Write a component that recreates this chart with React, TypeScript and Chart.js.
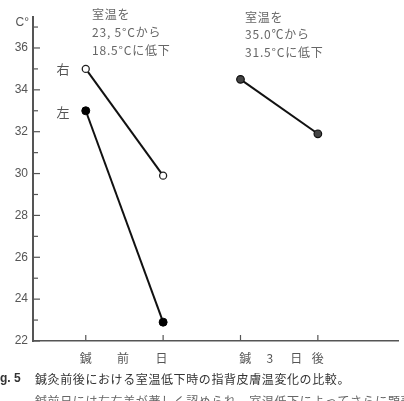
import React, { useEffect, useRef } from "react";
import { Chart, registerables } from "chart.js";

Chart.register(...registerables);

// data
const xPositions = [1, 2, 3, 4];
const rightBefore = [35.0, 29.9];
const leftBefore = [33.0, 22.9];
const after3Days = [34.5, 31.9];
const yTickLabels = [22, 24, 26, 28, 30, 32, 34, 36];
const groupBeforeChars = ["鍼", "前", "日"];
const groupBeforeAt = [1, 1.48, 1.98];
const groupAfterChars = ["鍼", "3", "日", "後"];
const groupAfterAt = [3.06, 3.38, 3.72, 4.0];
const noteLeft = ["室温を", "23, 5°Cから", "18.5°Cに低下"];
const noteRight = ["室温を", "35.0℃から", "31.5°Cに低下"];
const captionTitle = "鍼灸前後における室温低下時の指背皮膚温変化の比較。";
const captionLine2 = "鍼前日には左右差が著しく認められ、室温低下によってさらに顕著にな";

const JP = '"Noto Sans CJK JP", "Noto Sans", sans-serif';
const LAT = '"Liberation Sans", Arial, sans-serif';

const decor = {
  id: "decor",
  afterDraw(chart: any) {
    const ctx = chart.ctx;
    const x = chart.scales.x;
    const y = chart.scales.y;
    const area = chart.chartArea;
    ctx.save();
    // inward y ticks
    ctx.strokeStyle = "#555";
    ctx.lineWidth = 1.2;
    y.ticks.forEach((t: any) => {
      const py = y.getPixelForValue(t.value);
      const len = t.value % 2 === 0 ? 7 : 5;
      ctx.beginPath();
      ctx.moveTo(area.left, py);
      ctx.lineTo(area.left + len, py);
      ctx.stroke();
    });
    // inward x ticks
    x.ticks.forEach((t: any) => {
      const px = x.getPixelForValue(t.value);
      ctx.beginPath();
      ctx.moveTo(px, area.bottom);
      ctx.lineTo(px, area.bottom - 6);
      ctx.stroke();
    });
    // unit label
    ctx.fillStyle = "#555";
    ctx.font = `12px ${LAT}`;
    ctx.textAlign = "right";
    ctx.textBaseline = "middle";
    ctx.fillText("C°", 29, 23);
    // category labels
    ctx.font = `12px ${JP}`;
    ctx.textAlign = "center";
    ctx.fillStyle = "#555";
    groupBeforeChars.forEach((c, i) => {
      ctx.fillText(c, x.getPixelForValue(groupBeforeAt[i]), 358);
    });
    groupAfterChars.forEach((c, i) => {
      ctx.fillText(c, x.getPixelForValue(groupAfterAt[i]), 358);
    });
    // side labels
    ctx.font = `13px ${JP}`;
    ctx.fillText("右", 63, y.getPixelForValue(rightBefore[0]));
    ctx.fillText("左", 63, y.getPixelForValue(leftBefore[0]) + 1);
    // notes
    ctx.textAlign = "left";
    ctx.font = `12px ${JP}`;
    ctx.fillStyle = "#666";
    (ctx as any).letterSpacing = "0.8px";
    noteLeft.forEach((s, i) => ctx.fillText(s, 92, 14 + i * 18));
    noteRight.forEach((s, i) => ctx.fillText(s, 245, 17 + i * 17.5));
    // caption
    (ctx as any).letterSpacing = "0px";
    ctx.fillStyle = "#333";
    ctx.font = `bold 12px ${LAT}`;
    ctx.fillText("g. 5", 0, 379);
    ctx.font = `12px ${JP}`;
    (ctx as any).letterSpacing = "0.6px";
    ctx.fillText(captionTitle, 35, 379);
    ctx.fillStyle = "#666";
    ctx.fillText(captionLine2, 35, 401);
    ctx.restore();
  },
};

export default function App() {
  const ref = useRef<HTMLCanvasElement>(null);
  useEffect(() => {
    if (!ref.current) return;
    const pts = (vals: number[], xs: number[]) => vals.map((v, i) => ({ x: xs[i], y: v }));
    const chart = new Chart(ref.current, {
      type: "line",
      data: {
        datasets: [
          {
            label: "右",
            data: pts(rightBefore, [xPositions[0], xPositions[1]]),
            borderColor: "#111",
            borderWidth: 2,
            pointRadius: 3.5,
            pointBackgroundColor: "#fff",
            pointBorderColor: "#222",
            pointBorderWidth: 1.3,
          },
          {
            label: "左",
            data: pts(leftBefore, [xPositions[0], xPositions[1]]),
            borderColor: "#111",
            borderWidth: 2,
            pointRadius: 4,
            pointBackgroundColor: "#000",
            pointBorderColor: "#000",
            pointBorderWidth: 1,
          },
          {
            label: "鍼3日後",
            data: pts(after3Days, [xPositions[2], xPositions[3]]),
            borderColor: "#111",
            borderWidth: 2,
            pointRadius: 3.8,
            pointBackgroundColor: "#444",
            pointBorderColor: "#111",
            pointBorderWidth: 1.2,
          },
        ],
      },
      options: {
        animation: false,
        responsive: false,
        devicePixelRatio: 1,
        layout: { padding: { top: 17, right: 0, left: 0, bottom: 0 } },
        plugins: { legend: { display: false }, tooltip: { enabled: false } },
        scales: {
          x: {
            type: "linear",
            min: 0.318,
            max: 5.045,
            afterBuildTicks: (s: any) => {
              s.ticks = xPositions.map((v) => ({ value: v }));
            },
            afterFit: (s: any) => {
              s.height = 60;
            },
            ticks: { display: false },
            grid: { display: false, drawTicks: false },
            border: { display: true, color: "#555", width: 1.5 },
          },
          y: {
            min: 22,
            max: 37.48,
            afterBuildTicks: (s: any) => {
              const t = [];
              for (let v = 22; v <= 37; v++) t.push({ value: v });
              s.ticks = t;
            },
            afterFit: (s: any) => {
              s.width = 33;
            },
            ticks: {
              padding: 5,
              color: "#555",
              font: { family: LAT, size: 12 },
              callback: (v: any) => (yTickLabels.includes(Number(v)) ? String(v) : ""),
            },
            grid: { display: false, drawTicks: false },
            border: { display: true, color: "#555", width: 2 },
          },
        },
      },
      plugins: [decor],
    } as any);
    return () => chart.destroy();
  }, []);
  return (
    <div style={{ position: "absolute", left: 0, top: 0, width: 404, height: 401, background: "#fff" }}>
      <canvas ref={ref} width={404} height={401} style={{ width: 404, height: 401, display: "block" }} />
    </div>
  );
}
